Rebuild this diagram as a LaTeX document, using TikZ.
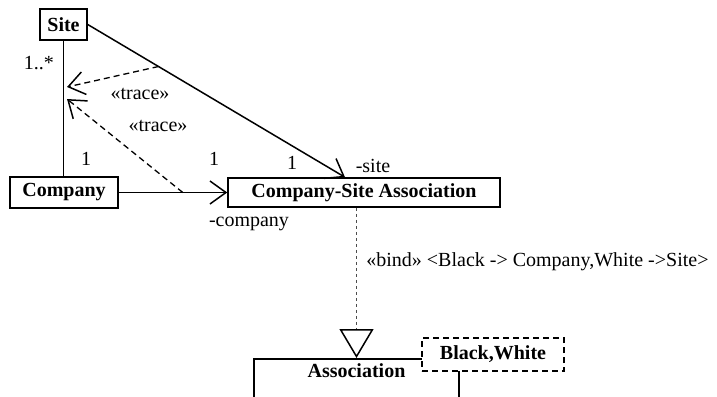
\documentclass[tikz,border=0pt]{standalone}
\usepackage{fontspec}
\setmainfont{Liberation Serif}
\usetikzlibrary{positioning,arrows.meta}

\begin{document}
\begin{tikzpicture}[
  x=0.5pt,y=-0.5pt,
  font=\fontsize{10}{12}\selectfont,
  cls/.style={draw,line width=0.75pt,fill=white,inner sep=2pt,font=\fontsize{10}{12}\selectfont\bfseries},
  lbl/.style={inner sep=1pt},
  assoc/.style={line width=0.75pt},
  trc/.style={line width=0.65pt,dash pattern=on 3pt off 2pt},
  barb/.style={-{Straight Barb[length=8pt,width=11.5pt,line width=0.75pt]}},
  bnd/.style={line width=0.45pt,draw=black!70,dash pattern=on 1.8pt off 1.2pt,
    -{Triangle[open,length=14.5pt,width=17pt,line width=0.75pt,color=black,fill=white]}}
]
\clip (0,0) rectangle (717,396);
\fill[white] (0,0) rectangle (717,396);

% ---------------- classes ----------------
\node[cls,minimum width=23.5pt,minimum height=15.5pt] (site) at (63.5,24.5) {Site};
\node[cls,minimum width=54pt,minimum height=15.5pt] (company) at (64,192.5) {Company};
\node[cls,minimum width=136pt,minimum height=14.5pt] (csa) at (364,192.5) {Company-Site Association};

% bound template, parameter box on its corner
\node[cls,anchor=north,minimum width=102.5pt,text height=7.5pt,text depth=22pt] (tmpl) at (356.5,358) {Association};
\node[cls,dash pattern=on 3pt off 2pt,line width=0.9pt,minimum width=71pt,minimum height=16.5pt] (param) at (493,354.5) {Black,White};

% ---------------- associations ----------------
\draw[assoc] (site.south) -- (site.south |- company.north);
\draw[assoc,barb] (company) -- coordinate[pos=0.59] (cmpmid) (csa);
\draw[assoc,barb] (site.east) -- coordinate[pos=0.275] (sitemid) ([xshift=-9.5pt]csa.north);

% trace dependencies onto the Site--Company line
\coordinate (trtop) at (67,87);
\coordinate (trbot) at (67,99);
\draw[trc,barb] (sitemid) -- (trtop);
\draw[trc,barb] (cmpmid) -- (trbot);

% binding
\draw[bnd] (csa.south -| tmpl.north) -- (tmpl.north);

% ---------------- labels ----------------
\node[lbl] at (39,63) {1..*};
\node[lbl] at (86,159) {1};
\node[lbl] at (214,159) {1};
\node[lbl] at (292,163) {1};
\node[lbl] at (373,166) {-site};
\node[lbl] at (249,224) {-company};
\node[lbl] at (140,94) {«trace»};
\node[lbl] at (158,126) {«trace»};
\node[lbl,anchor=west] at (364,262) {«bind» <Black -> Company,White ->Site>};
\end{tikzpicture}
\end{document}
